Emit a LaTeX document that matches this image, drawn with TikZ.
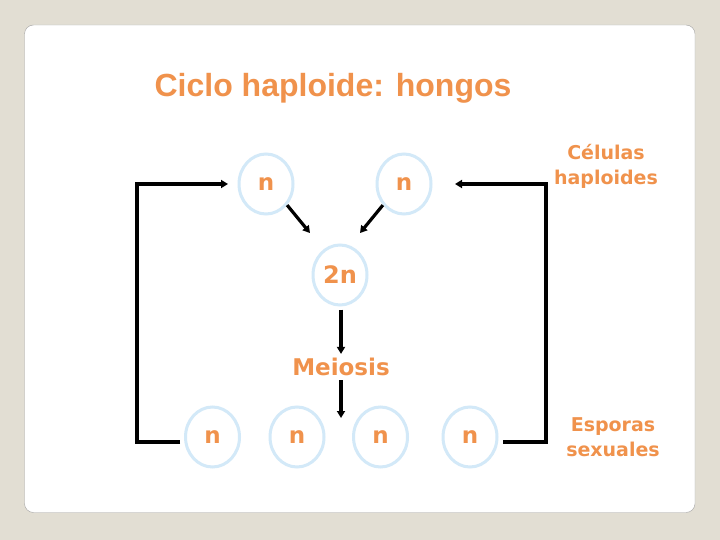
\documentclass[tikz,border=0pt]{standalone}
\usepackage{fontspec}
\setmainfont{DejaVu Sans}
\newfontfamily\titlefont{Liberation Sans}
\usetikzlibrary{arrows.meta,calc,positioning,shapes.geometric}
\definecolor{hongoOrange}{HTML}{F0924C}
\definecolor{hongoCell}{HTML}{D3E9F8}
\definecolor{hongoBack}{HTML}{E2DED3}
\definecolor{hongoFrame}{HTML}{A3A3A3}

\begin{document}
\begin{tikzpicture}[x=1pt,y=-1pt, every node/.style={text=hongoOrange, font=\bfseries},
    cell/.style={ellipse, draw=hongoCell, line width=3pt, minimum width=54pt, minimum height=60pt, inner sep=0pt, font=\bfseries\fontsize{23}{23}\selectfont},
    tag/.style={align=center, font=\bfseries\fontsize{19}{25}\selectfont},
    flow/.style={line width=3.2pt, -{Triangle[length=7pt,width=8pt]}}]
    % slide
    \fill[hongoBack] (0,0) rectangle (720,540);
    \draw[hongoFrame, fill=white, rounded corners=9pt] (24.5,25) rectangle (695,512.5);
    \node[font=\titlefont\bfseries\fontsize{32}{32}\selectfont] (title) at (333,88) {Ciclo haploide: hongos};
    % cells
    \node[cell] (nA) at (266,184) {n};
    \node[cell] (nB) at (404,184) {n};
    \node[cell, font=\bfseries\fontsize{24}{24}\selectfont] (zyg) at (340,275) {2n};
    \node[font=\bfseries\fontsize{23}{23}\selectfont, inner sep=4pt] (meio) at (341,367) {Meiosis};
    \node[cell] (s1) at (212.5,437) {n};
    \node[cell] (s2) at (297,437) {n};
    \node[cell] (s3) at (380.5,437) {n};
    \node[cell] (s4) at (470,437) {n};
    \node[tag] (hapl) at (606,166) {Células\\haploides};
    \node[tag] (spor) at (613,437) {Esporas\\sexuales};
    % arrows
    \coordinate (tA) at (310,233);
    \coordinate (tB) at (360,233);
    \coordinate (tM) at (341,418);
    \draw[flow] (nA.-45) -- (tA);
    \draw[flow] (nB.-135) -- (tB);
    \draw[flow, shorten <=3pt] (zyg.south -| meio.north) -- (meio.north);
    \draw[flow] (meio.south) -- (tM);
    \draw[flow, shorten <=4pt, shorten >=9.5pt] ([yshift=-5pt]s1.west) -- ++(-47,0) |- (nA.west);
    \draw[flow, shorten <=4.5pt, shorten >=22.5pt] ([yshift=-5pt]s4.east) -- ++(47.5,0) |- (nB.east);
\end{tikzpicture}
\end{document}
